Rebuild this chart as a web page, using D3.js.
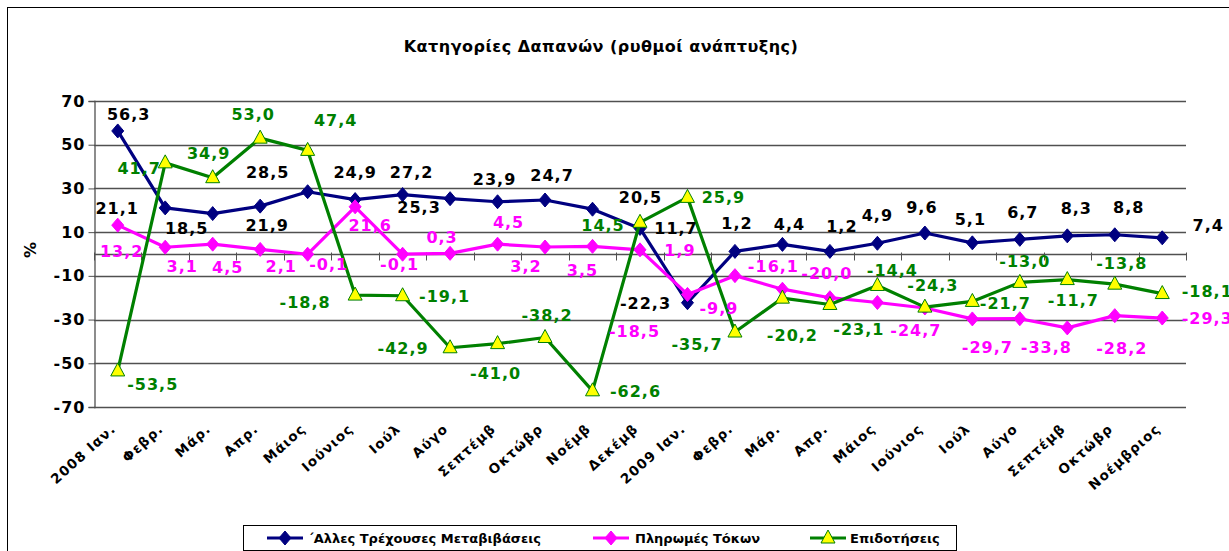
<!DOCTYPE html>
<html>
<head>
<meta charset="utf-8">
<script src="https://cdn.jsdelivr.net/npm/d3@7"></script>
<style>
  body { margin: 0; background: #fff; }
  text { font-family: "DejaVu Sans", sans-serif; }
</style>
</head>
<body>
<script>
// months (as shown on the axis)
var categories = ["2008 Ιαν.", "Φεβρ.", "Μάρ.", "Απρ.", "Μάιος", "Ιούνιος", "Ιούλ", "Αύγο",
  "Σεπτέμβ", "Οκτώβρ", "Νοέμβ", "Δεκέμβ", "2009 Ιαν.", "Φεβρ.", "Μάρ.", "Απρ.", "Μάιος",
  "Ιούνιος", "Ιούλ", "Αύγο", "Σεπτέμβ", "Οκτώβρ", "Νοέμβριος"];

var otherTransfers = [56.3, 21.1, 18.5, 21.9, 28.5, 24.9, 27.2, 25.3, 23.9, 24.7, 20.5, 11.7,
  -22.3, 1.2, 4.4, 1.2, 4.9, 9.6, 5.1, 6.7, 8.3, 8.8, 7.4];
var interest = [13.2, 3.1, 4.5, 2.1, -0.1, 21.6, -0.1, 0.3, 4.5, 3.2, 3.5, 1.9,
  -18.5, -9.9, -16.1, -20.0, -22.2, -24.7, -29.7, -29.6, -33.8, -28.2, -29.3];
var subsidies = [-53.5, 41.7, 34.9, 53.0, 47.4, -18.8, -19.1, -42.9, -41.0, -38.2, -62.6, 14.5,
  25.9, -35.7, -20.2, -23.1, -14.4, -24.3, -21.7, -13.0, -11.7, -13.8, -18.1];

var yTicks = [-70, -50, -30, -10, 10, 30, 50, 70];
var seriesNames = ["΄Αλλες Τρέχουσες Μεταβιβάσεις", "Πληρωμές Τόκων", "Επιδοτήσεις"];

// label placement (dx, dy from the point), null = no label shown
var blueOff = [[11,-17],[-48,0],[-26,15],[7,19],[-40,-19],[0,-27],[9,-22],[-31,9],[-3,-23],[7,-25],[48,-12],[36,0],
  [-42,0],[2,-28],[7,-20],[12,-25],[0,-28],[-3,-26],[-2,-24],[3,-27],[9,-28],[14,-28],[46,-13]];
var pinkOff = [[4,26],[17,19],[15,23],[21,17],[21,10],[15,18],[-3,10],[-8,-16],[11,-22],[-19,19],[-10,24],[40,0],
  [-53,37],[-16,33],[-9,-23],[-3,-24],null,[-9,22],[15,28],null,[-21,19],[7,33],[45,0]];
var greenOff = [[35,13],[-26,5],[-4,-24],[-7,-24],[28,-30],[-50,7],[42,0],[-47,0],[-2,30],[2,-22],[43,0],[-37,3],
  [36,0],[-38,12],[10,37],[29,25],[15,-15],[8,-22],[33,2],[5,-21],[6,21],[7,-21],[45,-2]];

var width = 1229, height = 551;
var plotLeft = 94, plotRight = 1186, plotTop = 101, plotBottom = 407;

var fmt = d3.formatLocale({decimal: ",", thousands: ".", grouping: [3], currency: ["", ""], minus: "-"}).format(".1f");

var svg = d3.select("body").append("svg")
  .attr("width", width)
  .attr("height", height);

// chart border
svg.append("rect")
  .attr("x", 7.5).attr("y", 7.5)
  .attr("width", 1240).attr("height", 560)
  .attr("fill", "none").attr("stroke", "#000").attr("stroke-width", 1);

var x = d3.scaleBand().domain(d3.range(categories.length)).range([plotLeft, plotRight]);
var y = d3.scaleLinear().domain([-70, 70]).range([plotBottom, plotTop]);
var cx = function(i) { return x(i) + x.bandwidth() / 2; };

// title
svg.append("text")
  .attr("x", 601).attr("y", 52)
  .attr("text-anchor", "middle")
  .attr("font-size", 16).attr("font-weight", "bold")
  .attr("letter-spacing", 0.5)
  .text("Κατηγορίες Δαπανών (ρυθμοί ανάπτυξης)");

// gridlines
svg.append("g").selectAll("line")
  .data(yTicks).enter().append("line")
  .attr("x1", plotLeft).attr("x2", plotRight)
  .attr("y1", function(d) { return Math.round(y(d)) + 0.5; })
  .attr("y2", function(d) { return Math.round(y(d)) + 0.5; })
  .attr("stroke", "#505050").attr("stroke-width", 1.3);

// y axis
var yAxis = svg.append("g")
  .attr("transform", "translate(" + (plotLeft + 0.5) + ",0)")
  .call(d3.axisLeft(y).tickValues(yTicks).tickSize(6).tickPadding(3).tickFormat(d3.format("d")));
yAxis.select(".domain").attr("stroke", "#505050").attr("stroke-width", 1.3);
yAxis.selectAll(".tick line").attr("stroke", "#505050");
yAxis.selectAll("text")
  .attr("font-size", 16).attr("font-weight", "bold")
  .attr("letter-spacing", 1)
  .attr("font-family", "DejaVu Sans").attr("fill", "#000")
  .text(function(d) { return d < 0 ? "-" + Math.abs(d) : d; });

svg.append("text")
  .attr("transform", "translate(36,250) rotate(-90)")
  .attr("text-anchor", "middle")
  .attr("font-size", 16).attr("font-weight", "bold")
  .text("%");

// x axis at zero
var y0 = Math.round(y(0)) + 0.5;
svg.append("line")
  .attr("x1", plotLeft).attr("x2", plotRight)
  .attr("y1", y0).attr("y2", y0)
  .attr("stroke", "#505050").attr("stroke-width", 1.3);
svg.append("g").selectAll("line")
  .data(d3.range(categories.length + 1)).enter().append("line")
  .attr("x1", function(i) { return Math.round(plotLeft + i * x.step()) + 0.5; })
  .attr("x2", function(i) { return Math.round(plotLeft + i * x.step()) + 0.5; })
  .attr("y1", y0 - 2).attr("y2", y0 + 6)
  .attr("stroke", "#505050");

// category labels
svg.append("g").selectAll("text")
  .data(categories).enter().append("text")
  .attr("transform", function(d, i) { return "translate(" + (cx(i) - 1) + ",430) rotate(-42)"; })
  .attr("text-anchor", "end")
  .attr("font-size", 13.5).attr("font-weight", "bold")
  .attr("letter-spacing", 1.2)
  .text(function(d) { return d; });

var series = [
  {values: otherTransfers, color: "#000080", label: "#000", marker: "diamond", off: blueOff},
  {values: interest, color: "#FF00FF", label: "#FF00FF", marker: "diamond", off: pinkOff},
  {values: subsidies, color: "#008000", label: "#008000", marker: "triangle", off: greenOff}
];

var diamond = "M0,-7L6,0L0,7L-6,0Z";
var triangle = "M0,-8L7,5L-7,5Z";

var line = d3.line()
  .x(function(d, i) { return cx(i); })
  .y(function(d) { return y(d); });

series.forEach(function(s) {
  svg.append("path")
    .datum(s.values)
    .attr("d", line)
    .attr("fill", "none")
    .attr("stroke", s.color)
    .attr("stroke-width", 3.2)
    .attr("stroke-linejoin", "round");

  svg.append("g").selectAll("path")
    .data(s.values).enter().append("path")
    .attr("transform", function(d, i) { return "translate(" + cx(i) + "," + y(d) + ")"; })
    .attr("d", s.marker == "diamond" ? diamond : triangle)
    .attr("fill", s.marker == "diamond" ? s.color : "#FFFF00")
    .attr("stroke", s.color)
    .attr("stroke-width", 1);
});

// data labels on top
series.forEach(function(s) {
  var pts = s.values.map(function(d, i) { return {v: d, i: i, off: s.off[i]}; })
    .filter(function(p) { return p.off != null; });
  svg.append("g").selectAll("text")
    .data(pts).enter().append("text")
    .attr("x", function(p) { return cx(p.i) + p.off[0]; })
    .attr("y", function(p) { return y(p.v) + p.off[1]; })
    .attr("dy", "0.36em")
    .attr("text-anchor", "middle")
    .attr("font-size", 16).attr("font-weight", "bold")
    .attr("letter-spacing", 1)
    .attr("fill", s.label)
    .text(function(p) { return fmt(p.v); });
});

// legend
var legend = svg.append("g");
legend.append("rect")
  .attr("x", 243.5).attr("y", 525.5)
  .attr("width", 713).attr("height", 25)
  .attr("fill", "#fff").attr("stroke", "#000");

var legendX = [[267, 308], [593, 635], [810, 850]];
series.forEach(function(s, k) {
  var lx = legendX[k][0], ly = 538;
  legend.append("line")
    .attr("x1", lx).attr("x2", lx + 36)
    .attr("y1", ly).attr("y2", ly)
    .attr("stroke", s.color).attr("stroke-width", 3.2);
  legend.append("path")
    .attr("transform", "translate(" + (lx + 18) + "," + ly + ")")
    .attr("d", s.marker == "diamond" ? diamond : triangle)
    .attr("fill", s.marker == "diamond" ? s.color : "#FFFF00")
    .attr("stroke", s.color);
  legend.append("text")
    .attr("x", legendX[k][1]).attr("y", ly)
    .attr("dy", "0.36em")
    .attr("font-size", 13).attr("font-weight", "bold")
    .text(seriesNames[k]);
});
</script>
</body>
</html>
